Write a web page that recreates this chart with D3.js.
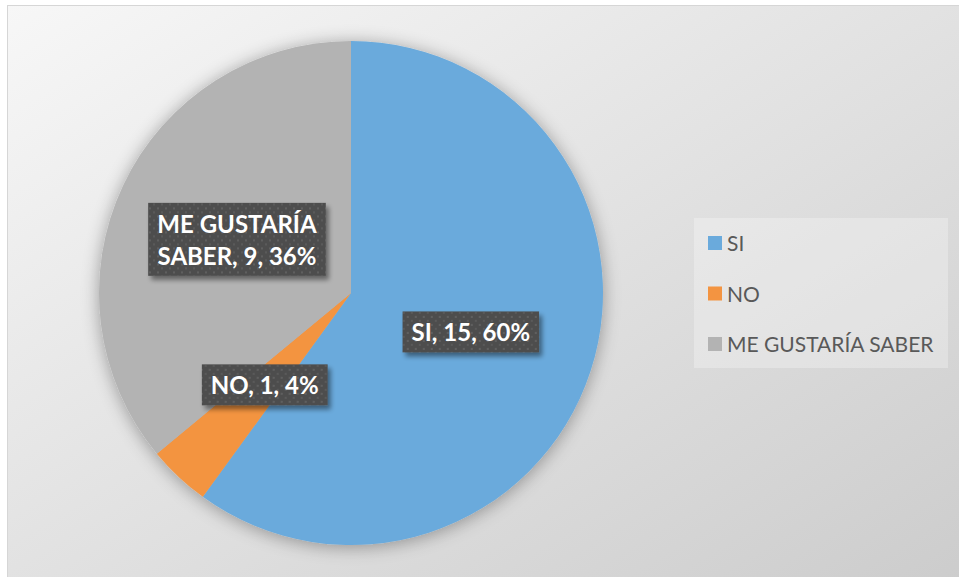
<html lang="es">
<head>
<meta charset="utf-8">
<title>Pie</title>
<script src="https://cdn.jsdelivr.net/npm/d3@7"></script>
<style>
  body { margin: 0; background: #fff; }
  svg { display: block; }
</style>
</head>
<body>
<svg width="959" height="577"></svg>
<script>
// data
var categories = ["SI", "NO", "ME GUSTARÍA SABER"];
var values = [15, 1, 9];
var percents = ["60%", "4%", "36%"];
var colors = ["#6aaadc", "#f39441", "#b3b3b3"];

var svg = d3.select("svg"),
    cx = 351, cy = 293, radius = 252;

var defs = svg.append("defs");

var bg = defs.append("linearGradient").attr("id", "bg")
    .attr("x1", 0).attr("y1", 0).attr("x2", 1).attr("y2", 1);
bg.append("stop").attr("offset", "0%").attr("stop-color", "#f7f7f7");
bg.append("stop").attr("offset", "100%").attr("stop-color", "#cccccc");

var sh = defs.append("filter").attr("id", "pieShadow")
    .attr("x", "-20%").attr("y", "-20%").attr("width", "140%").attr("height", "140%");
sh.append("feGaussianBlur").attr("in", "SourceAlpha").attr("stdDeviation", 9).attr("result", "b");
sh.append("feOffset").attr("in", "b").attr("dx", 0).attr("dy", 2).attr("result", "o");
sh.append("feComponentTransfer").attr("in", "o").attr("result", "s")
    .append("feFuncA").attr("type", "linear").attr("slope", 0.35);
var m1 = sh.append("feMerge");
m1.append("feMergeNode").attr("in", "s");
m1.append("feMergeNode").attr("in", "SourceGraphic");

var bs = defs.append("filter").attr("id", "boxShadow")
    .attr("x", "-20%").attr("y", "-30%").attr("width", "140%").attr("height", "160%");
bs.append("feGaussianBlur").attr("in", "SourceAlpha").attr("stdDeviation", 2.5).attr("result", "b");
bs.append("feOffset").attr("in", "b").attr("dx", 3).attr("dy", 4).attr("result", "o");
bs.append("feComponentTransfer").attr("in", "o").attr("result", "s")
    .append("feFuncA").attr("type", "linear").attr("slope", 0.45);
var m2 = bs.append("feMerge");
m2.append("feMergeNode").attr("in", "s");
m2.append("feMergeNode").attr("in", "SourceGraphic");

var pat = defs.append("pattern").attr("id", "dots")
    .attr("patternUnits", "userSpaceOnUse").attr("width", 8).attr("height", 8);
pat.append("rect").attr("width", 8).attr("height", 8).attr("fill", "#4e4e4e");
pat.append("rect").attr("x", 0).attr("y", 0).attr("width", 2).attr("height", 2).attr("fill", "#5f5f5f");
pat.append("rect").attr("x", 4).attr("y", 4).attr("width", 2).attr("height", 2).attr("fill", "#5a5a5a");

// background and frame
svg.append("rect")
    .attr("x", 7.5).attr("y", 5.5).attr("width", 960).attr("height", 580)
    .attr("fill", "url(#bg)").attr("stroke", "#d6d6d6");

// pie
var pie = d3.pie().sort(null).value(function(d) { return d; });
var arc = d3.arc().innerRadius(0).outerRadius(radius);
var arcs = pie(values);

var g = svg.append("g").attr("transform", "translate(" + cx + "," + cy + ")");

g.append("g").attr("filter", "url(#pieShadow)")
  .selectAll("path")
  .data(arcs)
  .enter().append("path")
    .attr("d", arc)
    .attr("fill", function(d, i) { return colors[i]; });

// data labels
var labelLines = [
  ["SI, " + values[0] + ", " + percents[0]],
  ["NO, " + values[1] + ", " + percents[1]],
  ["ME GUSTARÍA", "SABER, " + values[2] + ", " + percents[2]]
];
var lineH = 32, padX = 9;

arcs.forEach(function(d, i) {
  var c = arc.centroid(d);
  var lab = g.append("g").attr("transform", "translate(" + c[0] + "," + c[1] + ")");
  var box = lab.append("rect").attr("fill", "url(#dots)").attr("filter", "url(#boxShadow)");
  var lines = labelLines[i];
  var t = lab.append("text")
      .attr("text-anchor", "middle")
      .style("font-family", "Lato, 'Open Sans', sans-serif")
      .style("font-weight", "bold")
      .style("font-size", "24px")
      .attr("fill", "#ffffff");
  lines.forEach(function(s, j) {
    t.append("tspan").attr("x", 0)
      .attr("y", (j - (lines.length - 1) / 2) * lineH + 9.5)
      .text(s);
  });
  var w = t.node().getBBox().width + padX * 2;
  var h = lines.length * lineH + 9;
  box.attr("x", -w / 2).attr("y", -h / 2).attr("width", w).attr("height", h);
});

// legend
var legend = svg.append("g");
legend.append("rect")
    .attr("x", 694).attr("y", 218).attr("width", 254).attr("height", 150)
    .attr("fill", "#ffffff").attr("fill-opacity", 0.28);

var item = legend.selectAll(".item")
    .data(categories)
    .enter().append("g")
    .attr("class", "item")
    .attr("transform", function(d, i) { return "translate(708," + (236 + i * 50.5) + ")"; });

item.append("rect").attr("width", 14).attr("height", 14)
    .attr("fill", function(d, i) { return colors[i]; });

item.append("text")
    .attr("x", 19).attr("y", 15)
    .style("font-family", "Lato, 'Open Sans', sans-serif")
    .style("font-size", "21px")
    .attr("fill", "#595959")
    .text(function(d) { return d; });
</script>
</body>
</html>
